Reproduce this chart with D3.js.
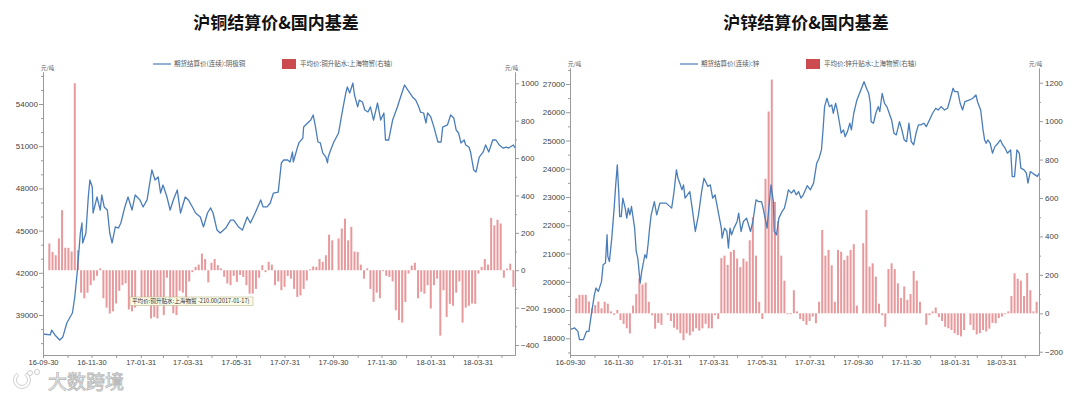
<!DOCTYPE html>
<html>
<head>
<meta charset="utf-8">
<script src="https://cdn.jsdelivr.net/npm/d3@7"></script>
<style>
    body { margin: 0; background: #fff; }
    text { font-family: "Liberation Sans", Arial, sans-serif; }
    .cjk { font-family: "Noto Sans CJK SC", sans-serif; }
</style>
</head>
<body>
<svg id="chart" width="1080" height="393"></svg>
<script>

// ---------------------------
// DATA
// ---------------------------

// x axis labels (every other month end) and monthly tick marks
const xTickLabels = ["16-09-30", "16-11-30", "17-01-31", "17-03-31", "17-05-31",
    "17-07-31", "17-09-30", "17-11-30", "18-01-31", "18-03-31"];
const xMinorTicks = ["16-09-30", "16-10-31", "16-11-30", "16-12-31", "17-01-31", "17-02-28",
    "17-03-31", "17-04-30", "17-05-31", "17-06-30", "17-07-31", "17-08-31", "17-09-30",
    "17-10-31", "17-11-30", "17-12-31", "18-01-31", "18-02-28", "18-03-31", "18-04-30"];

// y axis ticks
const cuLeftTicks = [39000, 42000, 45000, 48000, 51000, 54000];
const cuLeftMinor = [37000, 38000, 40000, 41000, 43000, 44000, 46000, 47000, 49000, 50000, 52000, 53000, 55000, 56000];
const cuRightTicks = [-400, -200, 0, 200, 400, 600, 800, 1000];
const cuRightMinor = [-300, -100, 100, 300, 500, 700, 900];
const znLeftTicks = [18000, 19000, 20000, 21000, 22000, 23000, 24000, 25000, 26000, 27000];
const znLeftMinor = [17500, 18500, 19500, 20500, 21500, 22500, 23500, 24500, 25500, 26500, 27500];
const znRightTicks = [-200, 0, 200, 400, 600, 800, 1000, 1200];
const znRightMinor = [-100, 100, 300, 500, 700, 900, 1100];

// settlement price, copper (yuan/ton)
const cuPrice = [
    ["16-09-30", 37650], ["16-10-09", 37580], ["16-10-11", 37930], ["16-10-15", 37580], ["16-10-21", 37220],
    ["16-10-25", 37440], ["16-10-30", 38430], ["16-11-06", 39140], ["16-11-09", 40280], ["16-11-12", 41990],
    ["16-11-14", 43400], ["16-11-16", 44830], ["16-11-18", 45540], ["16-11-19", 44120], ["16-11-23", 44830],
    ["16-11-26", 47390], ["16-11-28", 48600], ["16-12-01", 48100], ["16-12-02", 46250], ["16-12-07", 47390],
    ["16-12-11", 46460], ["16-12-13", 47530], ["16-12-16", 46680], ["16-12-20", 46460], ["16-12-23", 44830],
    ["16-12-26", 44120], ["16-12-30", 45260], ["17-01-03", 45180], ["17-01-06", 45540], ["17-01-11", 46680],
    ["17-01-15", 47390], ["17-01-20", 46460], ["17-01-24", 47530], ["17-01-30", 47180], ["17-02-03", 46680],
    ["17-02-08", 47180], ["17-02-12", 48600], ["17-02-14", 49310], ["17-02-18", 48600], ["17-02-22", 48810],
    ["17-02-25", 47670], ["17-02-28", 48240], ["17-03-05", 47390], ["17-03-09", 46460], ["17-03-13", 47180],
    ["17-03-18", 47890], ["17-03-22", 46250], ["17-03-28", 47390], ["17-04-01", 47180], ["17-04-06", 46680],
    ["17-04-10", 46250], ["17-04-16", 45970], ["17-04-20", 45260], ["17-04-25", 46250], ["17-04-29", 46610],
    ["17-05-02", 46250], ["17-05-07", 45040], ["17-05-11", 44830], ["17-05-18", 45180], ["17-05-24", 45750],
    ["17-05-28", 45750], ["17-06-03", 45260], ["17-06-08", 45040], ["17-06-14", 45970], ["17-06-18", 45540],
    ["17-06-24", 46250], ["17-07-01", 47180], ["17-07-04", 46680], ["17-07-09", 46680], ["17-07-13", 46960],
    ["17-07-17", 47670], ["17-07-23", 47740], ["17-07-27", 49810], ["17-07-30", 50020], ["17-08-04", 50020],
    ["17-08-07", 49880], ["17-08-10", 50590], ["17-08-11", 49880], ["17-08-16", 50870], ["17-08-18", 51230],
    ["17-08-23", 51580], ["17-08-24", 52360], ["17-08-29", 52650], ["17-09-02", 52860], ["17-09-05", 53220],
    ["17-09-08", 52360], ["17-09-11", 51300], ["17-09-14", 51230], ["17-09-17", 50520], ["17-09-21", 50230],
    ["17-09-23", 49810], ["17-09-24", 50230], ["17-09-27", 50730], ["17-10-01", 51300], ["17-10-07", 51940],
    ["17-10-12", 53570], ["17-10-16", 54780], ["17-10-18", 55210], ["17-10-21", 54780], ["17-10-25", 55490],
    ["17-10-27", 54640], ["17-10-31", 53790], ["17-11-02", 54280], ["17-11-06", 54140], ["17-11-09", 53570],
    ["17-11-13", 53430], ["17-11-16", 53790], ["17-11-20", 52860], ["17-11-25", 54070], ["17-11-29", 52860],
    ["17-12-03", 53360], ["17-12-05", 51440], ["17-12-09", 51440], ["17-12-14", 52860], ["17-12-20", 53790],
    ["17-12-24", 54500], ["17-12-29", 55350], ["18-01-02", 55000], ["18-01-08", 54500], ["18-01-12", 54280],
    ["18-01-16", 53790], ["18-01-18", 53430], ["18-01-22", 53360], ["18-01-25", 52650], ["18-01-27", 53360],
    ["18-01-31", 53080], ["18-02-04", 52360], ["18-02-09", 51300], ["18-02-13", 51300], ["18-02-15", 52360],
    ["18-02-21", 52510], ["18-02-25", 53220], ["18-03-01", 53000], ["18-03-04", 52150], ["18-03-07", 51940],
    ["18-03-10", 51230], ["18-03-14", 51440], ["18-03-16", 51090], ["18-03-20", 50940], ["18-03-22", 50590],
    ["18-03-26", 49310], ["18-03-29", 49170], ["18-04-02", 50230], ["18-04-07", 50590], ["18-04-10", 51090],
    ["18-04-14", 50590], ["18-04-19", 51440], ["18-04-23", 51440], ["18-04-27", 51090], ["18-05-02", 50870],
    ["18-05-06", 50940], ["18-05-09", 50870], ["18-05-15", 51090], ["18-05-17", 50870]
];

// settlement price, zinc (yuan/ton)
const znPrice = [
    ["16-09-30", 18306], ["16-10-06", 18366], ["16-10-10", 18246], ["16-10-12", 17953], ["16-10-17", 17953],
    ["16-10-21", 18246], ["16-10-24", 18246], ["16-10-27", 18836], ["16-10-31", 19543], ["16-11-02", 19780],
    ["16-11-05", 19660], ["16-11-09", 20013], ["16-11-11", 20603], ["16-11-14", 20663], ["16-11-16", 21664],
    ["16-11-17", 20897], ["16-11-19", 20720], ["16-11-22", 21547], ["16-11-25", 22607], ["16-11-27", 23431],
    ["16-11-29", 24137], ["16-12-01", 23077], ["16-12-02", 22310], ["16-12-04", 22310], ["16-12-06", 22961],
    ["16-12-09", 22607], ["16-12-11", 22254], ["16-12-13", 22607], ["16-12-15", 22370], ["16-12-17", 22664],
    ["16-12-21", 21900], ["16-12-23", 21074], ["16-12-25", 20840], ["16-12-28", 19957], ["16-12-30", 20367],
    ["17-01-03", 20957], ["17-01-05", 20840], ["17-01-07", 21310], ["17-01-09", 21900], ["17-01-11", 22370],
    ["17-01-15", 22840], ["17-01-18", 22370], ["17-01-22", 22784], ["17-01-30", 22784], ["17-02-06", 22607],
    ["17-02-09", 23194], ["17-02-12", 23961], ["17-02-14", 23667], ["17-02-17", 23431], ["17-02-19", 23254],
    ["17-02-21", 23431], ["17-02-23", 22961], ["17-02-26", 23077], ["17-03-01", 23194], ["17-03-04", 22607],
    ["17-03-08", 21780], ["17-03-12", 22370], ["17-03-16", 23194], ["17-03-19", 23667], ["17-03-24", 23371],
    ["17-03-27", 23431], ["17-03-30", 22961], ["17-04-02", 23077], ["17-04-06", 22487], ["17-04-10", 21900],
    ["17-04-11", 21547], ["17-04-14", 21900], ["17-04-17", 21780], ["17-04-19", 21194], ["17-04-21", 21900],
    ["17-04-23", 21664], ["17-04-26", 21900], ["17-04-30", 22134], ["17-05-02", 22430], ["17-05-05", 21780],
    ["17-05-08", 22134], ["17-05-12", 22254], ["17-05-17", 21780], ["17-05-20", 22134], ["17-05-24", 22901],
    ["17-05-27", 22840], ["17-05-31", 22840], ["17-06-02", 22607], ["17-06-07", 21900], ["17-06-10", 22840],
    ["17-06-12", 23431], ["17-06-15", 22840], ["17-06-16", 21780], ["17-06-19", 21664], ["17-06-22", 22254],
    ["17-06-26", 22487], ["17-06-29", 22607], ["17-07-02", 22961], ["17-07-04", 23254], ["17-07-08", 23137],
    ["17-07-11", 23254], ["17-07-14", 23077], ["17-07-17", 23194], ["17-07-20", 22961], ["17-07-23", 23077],
    ["17-07-28", 23400], ["17-08-01", 23254], ["17-08-05", 23491], ["17-08-09", 24198], ["17-08-12", 24374],
    ["17-08-15", 24668], ["17-08-17", 25374], ["17-08-19", 26198], ["17-08-22", 26495], ["17-08-25", 26198],
    ["17-08-28", 26258], ["17-08-30", 25965], ["17-09-02", 26318], ["17-09-04", 26081], ["17-09-07", 25611],
    ["17-09-09", 25258], ["17-09-12", 25374], ["17-09-14", 25138], ["17-09-17", 25314], ["17-09-20", 25611],
    ["17-09-22", 25374], ["17-09-25", 25965], ["17-09-29", 26435], ["17-10-04", 26788], ["17-10-08", 27081],
    ["17-10-12", 26788], ["17-10-14", 26671], ["17-10-16", 26318], ["17-10-17", 25668], ["17-10-20", 25611],
    ["17-10-23", 25965], ["17-10-26", 26198], ["17-10-28", 26021], ["17-10-31", 26671], ["17-11-03", 26318],
    ["17-11-06", 26198], ["17-11-09", 25965], ["17-11-12", 25728], ["17-11-15", 25258], ["17-11-18", 25198],
    ["17-11-22", 25668], ["17-11-25", 25374], ["17-11-28", 25021], ["17-12-01", 24961], ["17-12-04", 25611],
    ["17-12-07", 24961], ["17-12-10", 24844], ["17-12-13", 25258], ["17-12-16", 25551], ["17-12-19", 25551],
    ["17-12-23", 25611], ["17-12-26", 25491], ["17-12-30", 25728], ["18-01-03", 25965], ["18-01-07", 26141],
    ["18-01-10", 26081], ["18-01-14", 26198], ["18-01-18", 26081], ["18-01-22", 26141], ["18-01-25", 26435],
    ["18-01-29", 26848], ["18-01-31", 26728], ["18-02-04", 26728], ["18-02-07", 26318], ["18-02-10", 26081],
    ["18-02-13", 26374], ["18-02-19", 26435], ["18-02-23", 26495], ["18-02-27", 26611], ["18-03-01", 26374],
    ["18-03-05", 26081], ["18-03-08", 25374], ["18-03-10", 25021], ["18-03-12", 24904], ["18-03-14", 25021],
    ["18-03-17", 24904], ["18-03-20", 24551], ["18-03-23", 24784], ["18-03-27", 24904], ["18-03-30", 25021],
    ["18-04-02", 24844], ["18-04-05", 24728], ["18-04-08", 24551], ["18-04-12", 24668], ["18-04-14", 23724],
    ["18-04-17", 23724], ["18-04-20", 24668], ["18-04-23", 24551], ["18-04-25", 24021], ["18-04-29", 23961],
    ["18-05-02", 23844], ["18-05-04", 23491], ["18-05-07", 23901], ["18-05-10", 23844], ["18-05-13", 23784],
    ["18-05-16", 23724], ["18-05-18", 23844]
];

// dates of the basis bars (shared by both charts)
const barDates = [
    "16-10-08", "16-10-12", "16-10-16", "16-10-20", "16-10-24", "16-10-28", "16-11-01", "16-11-05", "16-11-09", "16-11-13",
    "16-11-17", "16-11-21", "16-11-25", "16-11-29", "16-12-03", "16-12-07", "16-12-11", "16-12-15", "16-12-19", "16-12-23",
    "16-12-27", "16-12-31", "17-01-04", "17-01-08", "17-01-12", "17-01-16", "17-01-20", "17-01-24", "17-01-28", "17-02-01",
    "17-02-05", "17-02-09", "17-02-13", "17-02-17", "17-02-21", "17-02-25", "17-03-01", "17-03-05", "17-03-09", "17-03-13",
    "17-03-17", "17-03-21", "17-03-25", "17-03-29", "17-04-02", "17-04-06", "17-04-10", "17-04-14", "17-04-18", "17-04-22",
    "17-04-26", "17-04-30", "17-05-04", "17-05-08", "17-05-12", "17-05-16", "17-05-20", "17-05-24", "17-05-28", "17-06-01",
    "17-06-05", "17-06-09", "17-06-13", "17-06-17", "17-06-21", "17-06-25", "17-06-29", "17-07-03", "17-07-07", "17-07-11",
    "17-07-15", "17-07-19", "17-07-23", "17-07-27", "17-07-31", "17-08-04", "17-08-08", "17-08-12", "17-08-16", "17-08-20",
    "17-08-24", "17-08-28", "17-09-01", "17-09-05", "17-09-09", "17-09-13", "17-09-17", "17-09-21", "17-09-25", "17-09-29",
    "17-10-03", "17-10-07", "17-10-11", "17-10-15", "17-10-19", "17-10-23", "17-10-27", "17-10-31", "17-11-04", "17-11-08",
    "17-11-12", "17-11-16", "17-11-20", "17-11-24", "17-11-28", "17-12-02", "17-12-06", "17-12-10", "17-12-14", "17-12-18",
    "17-12-22", "17-12-26", "17-12-30", "18-01-03", "18-01-07", "18-01-11", "18-01-15", "18-01-19", "18-01-23", "18-01-27",
    "18-01-31", "18-02-04", "18-02-08", "18-02-12", "18-02-16", "18-02-20", "18-02-24", "18-02-28", "18-03-04", "18-03-08",
    "18-03-12", "18-03-16", "18-03-20", "18-03-24", "18-03-28", "18-04-01", "18-04-05", "18-04-09", "18-04-13", "18-04-17",
    "18-04-21", "18-04-25", "18-04-29", "18-05-03", "18-05-07", "18-05-11", "18-05-15"
];

// copper premium/discount, Shanghai (right axis)
const cuBasis = [
    143, 98, 80, 170, 321, 120, 120, 100, 1000, 107,
    -120, -150, -120, -80, -55, -30, 10, -150, -200, -232,
    -220, -178, -110, -80, -70, -210, -220, -200, 0, -150,
    -178, -150, -258, -250, -258, -160, -240, -40, -160, -230,
    -240, -110, -120, -143, -60, -10, 18, 30, 89, 60,
    -65, 40, 60, 27, 10, -35, -71, -80, -30, -62,
    -25, -36, -80, -125, -125, -100, -40, 27, -10, 45,
    30, -80, -60, -107, -89, -30, -45, -100, -143, -135,
    -100, -55, 5, 20, 18, 60, 45, 80, 190, 160,
    0, 170, 223, 276, 160, 232, 100, 98, 30, -45,
    10, -100, -169, -120, -150, -5, -30, -36, -60, -214,
    -267, -280, -170, -18, 25, 40, -150, -115, -125, -80,
    -205, -80, -45, -350, -107, -250, -180, -190, -120, -60,
    -280, -200, -190, -178, -180, -18, 18, 60, 30, 280,
    240, 270, 250, -40, 9, 35, -89
];

// zinc premium/discount, Shanghai (right axis)
const znBasis = [
    78, 96, 96, 96, 61, 26, 43, 61, 26, 60,
    50, 10, -8, 17, -35, -55, -78, -105, 40, 100,
    182, 150, 160, 60, -10, -80, -50, -60, 0, -8,
    -40, -75, -85, -104, -140, -104, -115, -95, -78, -90,
    -78, -55, -78, -78, -10, -30, 287, 300, 252, 320,
    330, 285, 240, 285, 270, 380, 500, 300, 60, -30,
    700, 1050, 1216, 580, 480, 300, 170, -5, -5, 120,
    10, -30, -40, -60, -40, -17, -52, 60, 434, 300,
    330, 250, 60, 330, 320, 278, 300, 330, 360, 40,
    0, 365, 538, 243, 260, 191, 50, -10, -70, 230,
    260, 230, 156, 80, 140, 70, 100, 220, 170, 60,
    0, -60, -10, 10, 30, -20, -40, -70, -78, -87,
    -104, -113, -120, -87, 0, -60, -87, -110, -104, -87,
    -95, -80, -50, -52, -25, -17, -5, 10, 90, 208,
    180, 170, 90, 210, 120, 10, 60
];


// ---------------------------
// SETUP
// ---------------------------

const parseDate = d3.timeParse("%y-%m-%d");
const svg = d3.select("#chart");

const lineColor = "#4a7dbb";
const barColor = "#d85a5f";
const axisColor = "#9a9a9a";
const labelColor = "#444";
const plotBottom = 355;

const styleAxis = (g, fontSize) => {
    g.select(".domain").attr("stroke", axisColor);
    g.selectAll(".tick line").attr("stroke", axisColor);
    g.selectAll(".tick text")
        .attr("fill", labelColor)
        .attr("font-size", fontSize);
};


// ---------------------------
// DRAW ONE PANEL
// ---------------------------

const drawPanel = (cfg) => {

    const panel = svg.append("g");

    const xScale = d3.scaleTime()
        .domain([parseDate("16-09-30"), parseDate(cfg.endDate)])
        .range([cfg.left, cfg.right]);

    const yLeft = d3.scaleLinear()
        .domain(cfg.leftDomain)
        .range([plotBottom, cfg.top]);

    const yRight = d3.scaleLinear()
        .domain(cfg.rightDomain)
        .range([plotBottom, cfg.top]);

    // title
    panel.append("text")
        .attr("class", "cjk")
        .attr("x", cfg.titleX)
        .attr("y", 29)
        .attr("text-anchor", "middle")
        .attr("font-size", "17px")
        .attr("font-weight", 700)
        .attr("fill", "#111")
        .text(cfg.title);

    // legend
    const legend = panel.append("g")
        .attr("transform", `translate(${cfg.legendX}, 64)`);

    legend.append("line")
        .attr("x1", 0).attr("x2", 18)
        .attr("stroke", lineColor)
        .attr("stroke-width", 1.2);

    legend.append("text")
        .attr("class", "cjk")
        .attr("x", 21).attr("y", 2.2)
        .attr("font-size", "6.5px")
        .attr("fill", "#555")
        .text(cfg.lineName);

    legend.append("rect")
        .attr("x", cfg.legendGap).attr("y", -5)
        .attr("width", 14).attr("height", 10)
        .attr("fill", "#cc4b4f");

    legend.append("text")
        .attr("class", "cjk")
        .attr("x", cfg.legendGap + 18).attr("y", 2.2)
        .attr("font-size", "6.5px")
        .attr("fill", "#555")
        .text(cfg.barName);

    // unit labels
    [cfg.left - 2, cfg.right - 10].forEach(ux => {
        panel.append("text")
            .attr("class", "cjk")
            .attr("x", ux)
            .attr("y", cfg.top - 2)
            .attr("font-size", "5.5px")
            .attr("fill", "#555")
            .text("元/吨");
    });

    // basis bars (right axis)
    const bars = barDates.map((d, i) => ({ date: parseDate(d), value: cfg.bars[i] }));

    panel.append("g")
        .selectAll("rect")
        .data(bars)
        .join("rect")
        .attr("x", d => xScale(d.date) - 1)
        .attr("y", d => Math.min(yRight(d.value), yRight(0)))
        .attr("width", 2)
        .attr("height", d => Math.abs(yRight(d.value) - yRight(0)))
        .attr("fill", barColor)
        .attr("fill-opacity", 0.62);

    // price line (left axis)
    const lineGenerator = d3.line()
        .x(d => xScale(parseDate(d[0])))
        .y(d => yLeft(d[1]));

    panel.append("path")
        .datum(cfg.line)
        .attr("d", lineGenerator)
        .attr("fill", "none")
        .attr("stroke", lineColor)
        .attr("stroke-width", 1.3)
        .attr("stroke-linejoin", "round");

    // left axis + minor ticks
    panel.append("g")
        .attr("transform", `translate(${cfg.left},0)`)
        .call(d3.axisLeft(yLeft).tickValues(cfg.leftMinor).tickSize(2).tickSizeOuter(0).tickFormat(""))
        .call(g => styleAxis(g, "8px"));

    panel.append("g")
        .attr("transform", `translate(${cfg.left},0)`)
        .call(d3.axisLeft(yLeft).tickValues(cfg.leftTicks).tickSize(4).tickPadding(1).tickSizeOuter(0).tickFormat(d3.format("d")))
        .call(g => styleAxis(g, "8px"));

    // right axis + minor ticks
    panel.append("g")
        .attr("transform", `translate(${cfg.right},0)`)
        .call(d3.axisRight(yRight).tickValues(cfg.rightMinor).tickSize(2).tickSizeOuter(0).tickFormat(""))
        .call(g => styleAxis(g, "8px"));

    panel.append("g")
        .attr("transform", `translate(${cfg.right},0)`)
        .call(d3.axisRight(yRight).tickValues(cfg.rightTicks).tickSize(4).tickPadding(2).tickSizeOuter(0).tickFormat(d3.format("d")))
        .call(g => styleAxis(g, "8px"));

    // bottom axis: monthly ticks, labels every other month
    panel.append("g")
        .attr("transform", `translate(0,${plotBottom})`)
        .call(d3.axisBottom(xScale)
            .tickValues(xMinorTicks.map(parseDate))
            .tickSize(3)
            .tickPadding(2)
            .tickSizeOuter(0)
            .tickFormat(d => {
                const s = d3.timeFormat("%y-%m-%d")(d);
                return xTickLabels.includes(s) ? s : "";
            }))
        .call(g => styleAxis(g, "7.5px"));

    return { xScale, yRight };
};


// ---------------------------
// COPPER PANEL
// ---------------------------

drawPanel({
    title: "沪铜结算价&国内基差",
    titleX: 276,
    lineName: "期货结算价(连续):阴极铜",
    barName: "平均价:铜升贴水:上海物贸(右轴)",
    legendX: 153,
    legendGap: 129,
    left: 43, right: 515, top: 72,
    endDate: "18-05-17",
    leftDomain: [36156, 56275],
    rightDomain: [-453.5, 1060.4],
    leftTicks: cuLeftTicks, leftMinor: cuLeftMinor,
    rightTicks: cuRightTicks, rightMinor: cuRightMinor,
    line: cuPrice,
    bars: cuBasis
});

// hover label that is visible in the screenshot
const tip = svg.append("g").attr("transform", "translate(130,297)");
tip.append("rect")
    .attr("width", 123).attr("height", 8.5)
    .attr("fill", "#fbfbe8")
    .attr("stroke", "#b9b98a")
    .attr("stroke-width", 0.6);
tip.append("text")
    .attr("class", "cjk")
    .attr("x", 2).attr("y", 6.3)
    .attr("font-size", "5.6px")
    .attr("fill", "#333")
    .text("平均价:铜升贴水:上海物贸 -210.00(2017-01-17)");


// ---------------------------
// ZINC PANEL
// ---------------------------

drawPanel({
    title: "沪锌结算价&国内基差",
    titleX: 806,
    lineName: "期货结算价(连续):锌",
    barName: "平均价:锌升贴水:上海物贸(右轴)",
    legendX: 680,
    legendGap: 126,
    left: 570, right: 1039, top: 68,
    endDate: "18-05-18",
    leftDomain: [17409, 27566],
    rightDomain: [-217, 1276.5],
    leftTicks: znLeftTicks, leftMinor: znLeftMinor,
    rightTicks: znRightTicks, rightMinor: znRightMinor,
    line: znPrice,
    bars: znBasis
});


// ---------------------------
// WATERMARK
// ---------------------------

const mark = svg.append("g").attr("opacity", 0.9);

mark.append("path")
    .attr("d", d3.arc()({ innerRadius: 5.5, outerRadius: 8.5, startAngle: 0.6, endAngle: 5.6 }))
    .attr("transform", "translate(22,380)")
    .attr("fill", "#fff")
    .attr("stroke", "#bbb")
    .attr("stroke-width", 0.8);

[[30, 373], [37, 372]].forEach(([cx, cy]) => {
    mark.append("circle")
        .attr("cx", cx).attr("cy", cy).attr("r", 2.5)
        .attr("fill", "#fff")
        .attr("stroke", "#bbb")
        .attr("stroke-width", 0.8);
});

mark.append("text")
    .attr("class", "cjk")
    .attr("x", 48).attr("y", 389)
    .attr("font-size", "19px")
    .attr("fill", "#fff")
    .attr("stroke", "#b5b5b5")
    .attr("stroke-width", 0.9)
    .text("大数跨境");

</script>
</body>
</html>
